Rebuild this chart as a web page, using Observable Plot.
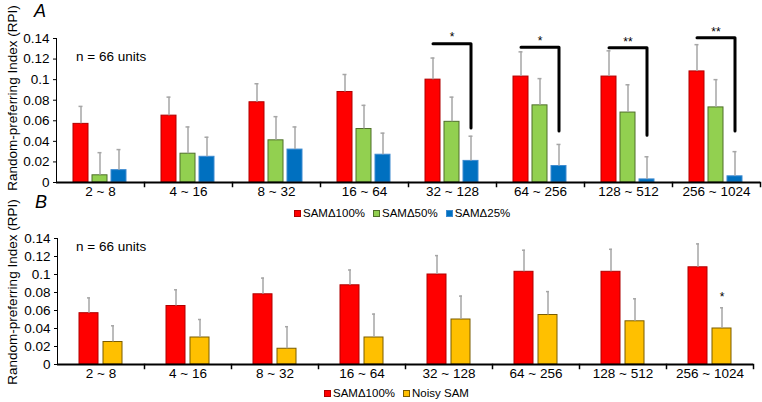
<!DOCTYPE html>
<html><head><meta charset="utf-8">
<script src="https://cdn.jsdelivr.net/npm/d3@7"></script>
<script src="https://cdn.jsdelivr.net/npm/@observablehq/plot@0.6"></script>
<style>
body{margin:0;background:#fff;font-family:"Liberation Sans",Arial,sans-serif;color:#000;}
#wrap{position:relative;width:762px;height:402px;overflow:hidden;}
.abs{position:absolute;}
.plabel{font-size:18px;font-style:italic;}
.ylab{font-size:13.5px;white-space:nowrap;transform:translate(-50%,-50%) rotate(-90deg);}
.note{font-size:13.5px;white-space:nowrap;}
.legend{display:flex;align-items:center;font-size:11.5px;white-space:nowrap;}
.legend .item{display:flex;align-items:center;margin-right:8px;}
.legend .sw{width:5px;height:5px;border:1px solid;margin-right:2px;}
</style></head><body><div id="wrap"></div>
<script>
const categories = ["2 ~ 8","4 ~ 16","8 ~ 32","16 ~ 64","32 ~ 128","64 ~ 256","128 ~ 512","256 ~ 1024"];
const seriesTop = ["SAMΔ100%","SAMΔ50%","SAMΔ25%"];
const seriesBottom = ["SAMΔ100%","Noisy SAM"];
const sam100 = [0.057, 0.065, 0.078, 0.088, 0.100, 0.103, 0.103, 0.108];
const sam100Err = [0.017, 0.018, 0.018, 0.017, 0.021, 0.024, 0.025, 0.026];
const sam50 = [0.007, 0.028, 0.041, 0.052, 0.059, 0.075, 0.068, 0.073];
const sam50Err = [0.022, 0.026, 0.023, 0.023, 0.024, 0.026, 0.027, 0.027];
const sam25 = [0.012, 0.025, 0.032, 0.027, 0.021, 0.016, 0.003, 0.006];
const sam25Err = [0.020, 0.019, 0.022, 0.021, 0.024, 0.021, 0.022, 0.024];
const noisy = [0.025, 0.030, 0.0175, 0.030, 0.050, 0.055, 0.048, 0.040];
const noisyErr = [0.018, 0.020, 0.0245, 0.026, 0.026, 0.026, 0.025, 0.023];
const yTicks = [0, 0.02, 0.04, 0.06, 0.08, 0.1, 0.12, 0.14];
// significance brackets (panel A): category, label, bracket top, bracket bottom
const sigCats = ["32 ~ 128","64 ~ 256","128 ~ 512","256 ~ 1024"];
const sigLabels = ["*","*","**","**"];
const sigTop = [0.135, 0.1316, 0.131, 0.1407];
const sigBottom = [0.053, 0.050, 0.046, 0.050];
// significance mark (panel B)
const sigCatsB = ["256 ~ 1024"];
const sigLabelsB = ["*"];
const sigYB = [0.0745];

const fills = {"SAMΔ100%":"#ff0000","SAMΔ50%":"#92d050","SAMΔ25%":"#0070c0","Noisy SAM":"#ffc000"};
const strokes = {"SAMΔ100%":"#b00000","SAMΔ50%":"#4f6f2a","SAMΔ25%":"#3d8ad0","Noisy SAM":"#7a5c00"};
const errColor = "#a6a6a6";
const fmt = d => String(+d.toFixed(2));

const topRows = categories.flatMap((cat, i) => [
  {cat, s: "SAMΔ100%", v: sam100[i], e: sam100Err[i]},
  {cat, s: "SAMΔ50%", v: sam50[i], e: sam50Err[i]},
  {cat, s: "SAMΔ25%", v: sam25[i], e: sam25Err[i]}
]);
const bottomRows = categories.flatMap((cat, i) => [
  {cat, s: "SAMΔ100%", v: sam100[i], e: sam100Err[i]},
  {cat, s: "Noisy SAM", v: noisy[i], e: noisyErr[i]}
]);
const bracketPts = sigCats.flatMap((cat, i) => [
  {cat, s: "SAMΔ100%", y: sigTop[i]},
  {cat, s: "SAMΔ25%", y: sigTop[i]},
  {cat, s: "SAMΔ25%", y: sigBottom[i]}
]);
const starRows = sigCats.map((cat, i) => ({cat, s: "SAMΔ50%", y: sigTop[i], t: sigLabels[i]}));
const starRowsB = sigCatsB.map((cat, i) => ({cat, s: "Noisy SAM", y: sigYB[i], t: sigLabelsB[i]}));

function panel({rows, series, height, marginTop, marginBottom, marginRight, paddingInner, paddingOuter, capInset, extra}) {
  const plotH = height - marginTop - marginBottom;
  return Plot.plot({
    width: 762, height, marginLeft: 56, marginRight, marginTop, marginBottom,
    style: {background: "transparent", fontFamily: "Liberation Sans, Arial, sans-serif", fontSize: "13.5px", color: "#000", overflow: "visible"},
    fx: {domain: categories, padding: 0, axis: "bottom", label: null, tickSize: 0, tickPadding: 4},
    x: {domain: series, paddingInner, paddingOuter, axis: null},
    y: {domain: [0, 0.14], ticks: yTicks, tickFormat: fmt, tickSize: 3, tickPadding: 4, label: null, line: true},
    marks: [
      ...series.map(s => Plot.barY(rows.filter(d => d.s === s), {fx: "cat", x: "s", y: "v", fill: fills[s], stroke: strokes[s], strokeWidth: 1})),
      Plot.ruleX(rows, {fx: "cat", x: "s", y1: "v", y2: d => d.v + d.e, stroke: errColor, strokeWidth: 1.5}),
      Plot.tickY(rows, {fx: "cat", x: "s", y: d => d.v + d.e, stroke: errColor, strokeWidth: 1.5, insetLeft: capInset, insetRight: capInset}),
      Plot.ruleY([0], {stroke: "#000", strokeWidth: 2}),
      Plot.frame({anchor: "right", insetTop: plotH, insetBottom: -4, stroke: "#000", strokeWidth: 1.5}),
      ...extra
    ]
  });
}

const topChart = panel({
  rows: topRows, series: seriesTop, height: 205, marginTop: 38, marginBottom: 23, marginRight: 2,
  paddingInner: 0.205, paddingOuter: 0.86, capInset: 5.5,
  extra: [
    Plot.line(bracketPts, {fx: "cat", x: "s", y: "y", z: "cat", stroke: "#000", strokeWidth: 3}),
    Plot.text(starRows, {fx: "cat", x: "s", y: "y", text: "t", dy: -6, fontSize: 12})
  ]
});
const bottomChart = panel({
  rows: bottomRows, series: seriesBottom, height: 195, marginTop: 48, marginBottom: 21, marginRight: 9,
  paddingInner: 0.2, paddingOuter: 0.86, capInset: 8,
  extra: [
    Plot.text(starRowsB, {fx: "cat", x: "s", y: "y", text: "t", fontSize: 12})
  ]
});

const wrap = document.getElementById("wrap");
function place(el, left, topPx) { el.classList.add("abs"); el.style.left = left + "px"; el.style.top = topPx + "px"; wrap.appendChild(el); return el; }
place(topChart, 0, 0);
place(bottomChart, 0, 190);

function html(s) { const d = document.createElement("div"); d.innerHTML = s; return d.firstElementChild; }
place(html('<div class="plabel">A</div>'), 34, 1);
place(html('<div class="plabel">B</div>'), 35, 192);
place(html('<div class="ylab">Random-preferring Index (RPI)</div>'), 12, 98);
place(html('<div class="ylab">Random-preferring Index (RPI)</div>'), 12, 292);
place(html('<div class="note">n = 66 units</div>'), 76, 49);
place(html('<div class="note">n = 66 units</div>'), 76, 239);

function legend(series) {
  return '<div class="legend">' + series.map(s =>
    `<div class="item"><div class="sw" style="background:${fills[s]};border-color:${strokes[s]}"></div>${s}</div>`).join("") + '</div>';
}
place(html(legend(seriesTop)), 294, 207);
place(html(legend(seriesBottom)), 324, 387);
</script>
</body></html>
